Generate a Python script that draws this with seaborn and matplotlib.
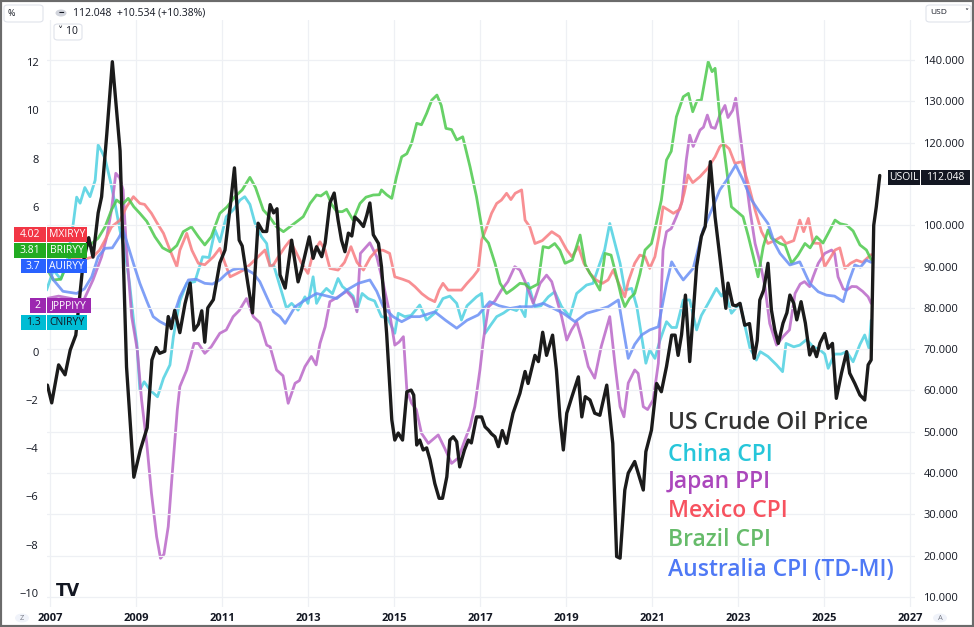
import matplotlib
matplotlib.use("Agg")
import matplotlib.pyplot as plt
from matplotlib.patches import Rectangle, FancyBboxPatch, Circle
import numpy as np
import seaborn as sns

# ---- data (decimal year, value) ----
oil_year = [2006.94, 2007.04, 2007.2, 2007.35, 2007.47, 2007.6, 2007.77, 2007.9, 2008.0, 2008.12,
            2008.2, 2008.32, 2008.45, 2008.63, 2008.78, 2008.95, 2009.1, 2009.26, 2009.37, 2009.47,
            2009.55, 2009.67, 2009.75, 2009.82, 2009.9, 2010.02, 2010.14, 2010.26, 2010.35, 2010.45,
            2010.53, 2010.6, 2010.67, 2010.8, 2010.95, 2011.07, 2011.19, 2011.29, 2011.4, 2011.47,
            2011.6, 2011.71, 2011.84, 2011.95, 2012.04, 2012.12, 2012.2, 2012.28, 2012.35, 2012.47,
            2012.62, 2012.77, 2012.85, 2013.03, 2013.12, 2013.2, 2013.32, 2013.4, 2013.51, 2013.61,
            2013.7, 2013.78, 2013.86, 2013.94, 2014.02, 2014.09, 2014.19, 2014.29, 2014.37, 2014.44,
            2014.52, 2014.64, 2014.71, 2014.83, 2014.95, 2015.02, 2015.1, 2015.2, 2015.3, 2015.4,
            2015.46, 2015.53, 2015.6, 2015.68, 2015.76, 2015.84, 2015.95, 2016.05, 2016.13, 2016.23,
            2016.3, 2016.38, 2016.46, 2016.53, 2016.64, 2016.73, 2016.8, 2016.92, 2017.04, 2017.12,
            2017.2, 2017.27, 2017.35, 2017.43, 2017.52, 2017.62, 2017.7, 2017.77, 2017.93, 2018.05,
            2018.12, 2018.28, 2018.36, 2018.46, 2018.55, 2018.69, 2018.78, 2018.86, 2018.94, 2019.02,
            2019.14, 2019.29, 2019.37, 2019.45, 2019.56, 2019.67, 2019.79, 2019.95, 2020.09, 2020.18,
            2020.26, 2020.37, 2020.45, 2020.6, 2020.8, 2020.86, 2020.99, 2021.11, 2021.22, 2021.34,
            2021.46, 2021.54, 2021.61, 2021.69, 2021.78, 2021.88, 2022.04, 2022.15, 2022.24, 2022.36,
            2022.47, 2022.58, 2022.72, 2022.77, 2022.88, 2022.96, 2023.05, 2023.16, 2023.27, 2023.38,
            2023.45, 2023.51, 2023.6, 2023.7, 2023.78, 2023.86, 2023.94, 2024.05, 2024.14, 2024.21,
            2024.3, 2024.37, 2024.47, 2024.57, 2024.67, 2024.75, 2024.83, 2024.91, 2025.02, 2025.1,
            2025.2, 2025.29, 2025.41, 2025.53, 2025.6, 2025.72, 2025.84, 2025.95, 2026.03, 2026.1,
            2026.16, 2026.22, 2026.3]
oil_price = [61.3, 57.0, 66.2, 63.8, 69.8, 73.4, 90.9, 97.0, 92.3, 103.0,
             106.9, 122.0, 139.6, 118.0, 65.7, 39.0, 45.6, 51.0, 67.4, 70.4,
             69.0, 69.5, 77.9, 75.0, 79.4, 74.0, 81.0, 86.0, 74.6, 76.0,
             79.3, 71.7, 80.0, 82.0, 90.9, 94.0, 104.4, 113.9, 96.4, 95.0,
             86.0, 78.8, 100.5, 98.5, 98.5, 105.0, 103.0, 104.0, 88.0, 84.8,
             96.4, 86.3, 89.2, 97.2, 92.0, 94.8, 92.4, 95.7, 105.4, 107.8,
             101.3, 96.4, 93.6, 98.1, 97.4, 102.0, 101.0, 99.7, 102.5, 105.4,
             97.7, 95.6, 90.0, 73.8, 52.9, 48.0, 49.7, 48.0, 59.7, 60.1,
             58.9, 46.8, 48.0, 45.6, 46.1, 43.2, 37.5, 33.9, 33.9, 39.1,
             48.0, 48.8, 47.6, 41.5, 45.6, 48.0, 47.3, 53.6, 53.6, 51.2,
             50.4, 49.5, 48.8, 46.4, 50.3, 47.2, 51.2, 54.5, 59.3, 64.6,
             61.7, 68.5, 67.0, 74.1, 68.5, 73.4, 64.9, 53.6, 45.6, 54.5,
             58.5, 63.3, 53.6, 58.5, 57.7, 54.5, 54.0, 61.3, 47.2, 19.8,
             19.4, 35.9, 40.0, 42.8, 35.9, 45.2, 50.4, 61.7, 59.7, 65.8,
             73.4, 73.4, 68.5, 73.5, 83.1, 67.0, 90.0, 97.3, 99.7, 115.4,
             102.0, 92.4, 79.9, 86.0, 80.7, 80.5, 81.1, 75.8, 76.2, 67.8,
             72.1, 81.9, 84.3, 90.8, 79.5, 74.6, 71.4, 76.3, 78.8, 83.1,
             81.1, 77.1, 81.5, 76.3, 68.6, 70.6, 68.2, 71.5, 73.8, 70.2,
             71.4, 58.1, 64.2, 69.4, 64.2, 61.7, 58.9, 57.7, 66.2, 67.4,
             100.0, 104.5, 112.048]

china_year = [2006.92, 2007.08, 2007.25, 2007.39, 2007.54, 2007.62, 2007.7, 2007.81, 2007.93, 2008.05,
              2008.12, 2008.2, 2008.28, 2008.4, 2008.51, 2008.63, 2008.74, 2008.85, 2008.95, 2009.02,
              2009.09, 2009.19, 2009.33, 2009.5, 2009.64, 2009.79, 2009.87, 2010.02, 2010.18, 2010.37,
              2010.55, 2010.7, 2010.84, 2010.95, 2011.1, 2011.26, 2011.42, 2011.53, 2011.65, 2011.77,
              2011.92, 2012.04, 2012.12, 2012.2, 2012.35, 2012.5, 2012.62, 2012.77, 2012.93, 2013.0,
              2013.12, 2013.2, 2013.32, 2013.43, 2013.57, 2013.7, 2013.8, 2013.95, 2014.05, 2014.14,
              2014.26, 2014.4, 2014.55, 2014.71, 2014.85, 2015.02, 2015.1, 2015.25, 2015.4, 2015.6,
              2015.76, 2015.95, 2016.14, 2016.3, 2016.46, 2016.57, 2016.7, 2016.92, 2017.04, 2017.12,
              2017.25, 2017.39, 2017.55, 2017.7, 2017.85, 2017.93, 2018.05, 2018.12, 2018.28, 2018.42,
              2018.59, 2018.74, 2018.9, 2019.09, 2019.25, 2019.48, 2019.63, 2019.79, 2019.9, 2020.02,
              2020.14, 2020.26, 2020.37, 2020.53, 2020.65, 2020.76, 2020.86, 2020.95, 2021.07, 2021.19,
              2021.34, 2021.46, 2021.57, 2021.73, 2021.88, 2022.04, 2022.15, 2022.31, 2022.5, 2022.62,
              2022.7, 2022.85, 2022.95, 2023.05, 2023.16, 2023.28, 2023.43, 2023.52, 2023.7, 2023.9,
              2024.04, 2024.12, 2024.3, 2024.44, 2024.6, 2024.75, 2024.91, 2025.02, 2025.1, 2025.25,
              2025.4, 2025.53, 2025.68, 2025.84, 2025.95, 2026.05, 2026.1]
china_cpi = [2.55, 3.38, 3.0, 3.67, 5.3, 6.4, 6.15, 6.8, 6.42, 7.1,
             8.56, 8.3, 8.0, 7.1, 6.15, 5.0, 4.2, 2.83, 1.18, 0.36,
             -1.59, -1.25, -1.6, -1.87, -1.1, -0.55, 0.62, 2.1, 2.83, 2.9,
             3.93, 3.9, 5.04, 4.55, 5.59, 5.87, 6.28, 6.42, 6.1, 5.31,
             4.76, 4.48, 3.52, 3.6, 2.7, 1.8, 2.0, 1.72, 2.27, 2.0,
             3.1, 2.0, 2.4, 2.62, 2.4, 3.03, 2.7, 2.48, 2.3, 1.72,
             2.41, 2.2, 2.1, 1.45, 1.4, 0.76, 1.59, 1.45, 1.5, 1.93,
             1.31, 1.6, 2.2, 2.3, 2.0, 1.31, 1.9, 2.27, 2.41, 0.76,
             1.1, 1.45, 1.6, 1.79, 1.7, 1.86, 1.45, 2.83, 1.86, 1.9,
             2.27, 2.48, 1.86, 1.45, 2.41, 2.76, 2.83, 3.66, 4.21, 5.31,
             4.48, 3.66, 2.55, 2.62, 1.86, 0.62, -0.48, 0.07, -0.28, 0.48,
             1.24, 1.0, 1.0, 2.14, 2.14, 0.9, 1.5, 2.0, 2.62, 2.3,
             2.5, 1.59, 1.8, 2.0, 1.1, 0.15, -0.35, 0.0, -0.2, -0.55,
             -0.83, 0.34, 0.2, 0.27, 0.5, 0.2, 0.07, -0.1, -0.69, -0.1,
             -0.1, 0.0, -0.42, 0.3, 0.69, 0.14, 1.3]

japan_year = [2006.92, 2007.2, 2007.5, 2007.75, 2008.0, 2008.2, 2008.32, 2008.43, 2008.53, 2008.62,
              2008.7, 2008.78, 2008.9, 2009.03, 2009.13, 2009.25, 2009.36, 2009.48, 2009.57, 2009.65,
              2009.75, 2009.85, 2009.96, 2010.02, 2010.18, 2010.35, 2010.45, 2010.6, 2010.75, 2010.95,
              2011.1, 2011.26, 2011.4, 2011.57, 2011.73, 2011.88, 2012.04, 2012.12, 2012.27, 2012.42,
              2012.54, 2012.7, 2012.8, 2012.93, 2013.08, 2013.19, 2013.28, 2013.4, 2013.51, 2013.7,
              2013.9, 2014.05, 2014.14, 2014.22, 2014.44, 2014.6, 2014.75, 2014.9, 2015.02, 2015.12,
              2015.22, 2015.3, 2015.41, 2015.52, 2015.64, 2015.8, 2016.03, 2016.18, 2016.34, 2016.5,
              2016.65, 2016.77, 2016.88, 2017.0, 2017.08, 2017.2, 2017.35, 2017.5, 2017.65, 2017.81,
              2017.93, 2018.05, 2018.24, 2018.4, 2018.55, 2018.67, 2018.78, 2018.9, 2019.02, 2019.13,
              2019.25, 2019.37, 2019.52, 2019.67, 2019.82, 2020.02, 2020.14, 2020.26, 2020.35, 2020.45,
              2020.6, 2020.68, 2020.8, 2020.9, 2021.03, 2021.15, 2021.26, 2021.34, 2021.45, 2021.57,
              2021.7, 2021.8, 2021.88, 2021.96, 2022.12, 2022.2, 2022.29, 2022.38, 2022.47, 2022.58,
              2022.7, 2022.77, 2022.88, 2022.95, 2023.05, 2023.16, 2023.28, 2023.4, 2023.52, 2023.63,
              2023.74, 2023.9, 2024.05, 2024.2, 2024.33, 2024.45, 2024.55, 2024.67, 2024.75, 2024.87,
              2025.02, 2025.18, 2025.25, 2025.33, 2025.45, 2025.53, 2025.65, 2025.76, 2025.9, 2026.03,
              2026.1]
japan_ppi = [2.2, 2.3, 2.2, 2.0, 2.97, 3.93, 4.76, 5.87, 7.39, 7.2,
             6.7, 4.2, 1.45, 0.07, -2.0, -3.8, -5.87, -7.67, -8.56, -8.4,
             -7.25, -4.9, -2.42, -1.45, -0.76, 0.34, 0.34, -0.07, 0.2, 0.76,
             0.9, 1.45, 1.7, 2.2, 1.45, 1.2, 0.27, 0.2, -0.76, -1.0,
             -2.14, -1.31, -1.2, -0.62, -0.2, -0.55, 0.34, 1.03, 2.07, 2.27,
             2.5, 2.2, 1.65, 4.07, 4.51, 3.93, 2.83, 1.59, 0.27, 0.4,
             0.62, -1.59, -2.14, -2.4, -3.38, -3.8, -3.45, -4.0, -4.63, -4.4,
             -3.66, -3.1, -2.28, -0.76, 0.48, 1.86, 2.1, 2.55, 2.9, 3.52,
             3.38, 2.9, 2.0, 2.83, 3.17, 2.9, 2.2, 1.45, 0.48, 0.9,
             1.24, 0.5, -0.62, -1.1, 0.2, 1.45, -0.5, -2.28, -2.7, -1.3,
             -0.76, -0.9, -2.28, -2.4, -2.0, -0.48, 4.21, 4.97, 5.1, 5.59,
             6.2, 7.94, 8.97, 8.5, 9.18, 9.3, 9.8, 9.3, 9.25, 9.8,
             10.2, 9.7, 10.0, 10.5, 9.04, 7.52, 5.87, 4.48, 3.66, 2.69,
             1.17, 0.27, 0.62, 0.9, 2.41, 2.8, 2.9, 2.69, 3.1, 3.66,
             4.07, 4.21, 4.07, 3.1, 2.6, 2.55, 2.7, 2.69, 2.5, 2.27,
             2.0]

mexico_year = [2006.92, 2007.2, 2007.5, 2007.75, 2008.0, 2008.15, 2008.28, 2008.43, 2008.63, 2008.78,
               2008.94, 2009.09, 2009.2, 2009.36, 2009.5, 2009.64, 2009.79, 2009.95, 2010.02, 2010.18,
               2010.3, 2010.45, 2010.6, 2010.8, 2010.95, 2011.07, 2011.19, 2011.35, 2011.5, 2011.65,
               2011.84, 2012.0, 2012.12, 2012.2, 2012.3, 2012.47, 2012.58, 2012.7, 2012.85, 2013.0,
               2013.12, 2013.28, 2013.4, 2013.51, 2013.7, 2013.85, 2014.0, 2014.14, 2014.29, 2014.45,
               2014.6, 2014.75, 2014.9, 2015.02, 2015.2, 2015.35, 2015.49, 2015.65, 2015.8, 2015.95,
               2016.05, 2016.14, 2016.26, 2016.42, 2016.57, 2016.7, 2016.84, 2016.96, 2017.04, 2017.16,
               2017.27, 2017.39, 2017.5, 2017.62, 2017.72, 2017.82, 2017.97, 2018.05, 2018.16, 2018.28,
               2018.45, 2018.67, 2018.85, 2019.02, 2019.14, 2019.29, 2019.42, 2019.56, 2019.7, 2019.85,
               2019.98, 2020.1, 2020.26, 2020.37, 2020.45, 2020.6, 2020.72, 2020.84, 2020.95, 2021.07,
               2021.16, 2021.26, 2021.38, 2021.5, 2021.65, 2021.75, 2021.84, 2021.95, 2022.12, 2022.3,
               2022.47, 2022.58, 2022.66, 2022.8, 2022.93, 2023.09, 2023.24, 2023.4, 2023.55, 2023.7,
               2023.85, 2024.01, 2024.12, 2024.3, 2024.44, 2024.53, 2024.64, 2024.75, 2024.91, 2025.02,
               2025.12, 2025.26, 2025.37, 2025.49, 2025.62, 2025.76, 2025.9, 2026.1]
mexico_cpi = [4.0, 4.1, 3.9, 3.8, 3.93, 4.2, 4.62, 5.17, 5.45, 6.0,
              6.42, 6.14, 6.1, 5.73, 5.3, 4.9, 4.21, 3.52, 4.2, 4.9,
              4.2, 3.66, 3.6, 3.93, 4.28, 3.66, 3.1, 3.24, 3.38, 3.6,
              3.93, 4.21, 3.52, 3.6, 3.9, 4.35, 4.6, 4.2, 3.66, 3.24,
              4.1, 4.55, 4.2, 3.45, 3.38, 3.7, 4.35, 3.7, 3.38, 3.9,
              4.21, 4.2, 4.07, 3.1, 3.0, 2.9, 2.69, 2.4, 2.2, 2.07,
              2.55, 2.83, 2.55, 2.55, 2.55, 2.83, 3.1, 3.38, 4.62, 5.17,
              5.73, 6.14, 6.28, 6.56, 6.3, 6.56, 6.7, 5.45, 5.17, 4.48,
              4.6, 4.97, 4.76, 4.21, 3.93, 4.35, 3.66, 3.24, 2.97, 2.83,
              2.97, 3.38, 2.69, 2.27, 2.9, 3.66, 4.0, 3.93, 3.45, 3.93,
              4.76, 6.0, 5.87, 5.73, 5.9, 6.56, 7.32, 7.0, 7.25, 7.6,
              8.07, 8.49, 8.63, 8.4, 7.8, 7.87, 6.97, 5.87, 4.97, 4.48,
              4.6, 4.76, 4.48, 4.6, 5.45, 4.97, 5.52, 4.5, 4.48, 3.52,
              3.8, 4.21, 4.3, 3.45, 3.66, 3.79, 3.7, 4.02]

brazil_year = [2006.92, 2007.08, 2007.25, 2007.47, 2007.7, 2007.97, 2008.12, 2008.28, 2008.43, 2008.55,
               2008.68, 2008.82, 2008.95, 2009.09, 2009.25, 2009.44, 2009.62, 2009.79, 2009.95, 2010.1,
               2010.29, 2010.45, 2010.6, 2010.75, 2010.95, 2011.12, 2011.3, 2011.47, 2011.65, 2011.78,
               2011.96, 2012.1, 2012.27, 2012.43, 2012.58, 2012.75, 2012.89, 2013.05, 2013.2, 2013.3,
               2013.43, 2013.55, 2013.67, 2013.8, 2013.9, 2014.05, 2014.21, 2014.35, 2014.52, 2014.66,
               2014.71, 2014.83, 2014.95, 2015.06, 2015.18, 2015.3, 2015.41, 2015.53, 2015.64, 2015.76,
               2015.88, 2016.0, 2016.1, 2016.21, 2016.34, 2016.46, 2016.6, 2016.77, 2016.92, 2017.08,
               2017.2, 2017.35, 2017.47, 2017.62, 2017.77, 2017.93, 2018.05, 2018.16, 2018.35, 2018.47,
               2018.6, 2018.74, 2018.86, 2018.98, 2019.15, 2019.33, 2019.45, 2019.56, 2019.68, 2019.79,
               2019.91, 2020.05, 2020.18, 2020.29, 2020.37, 2020.48, 2020.6, 2020.72, 2020.84, 2020.99,
               2021.1, 2021.22, 2021.34, 2021.45, 2021.57, 2021.73, 2021.85, 2021.95, 2022.05, 2022.15,
               2022.24, 2022.31, 2022.4, 2022.47, 2022.58, 2022.7, 2022.85, 2022.98, 2023.12, 2023.24,
               2023.36, 2023.47, 2023.59, 2023.7, 2023.78, 2023.98, 2024.1, 2024.25, 2024.4, 2024.56,
               2024.68, 2024.83, 2024.98, 2025.1, 2025.26, 2025.38, 2025.53, 2025.68, 2025.84, 2025.99,
               2026.1]
brazil_cpi = [3.45, 2.97, 3.0, 3.93, 4.2, 4.48, 4.7, 5.17, 5.87, 6.28,
              6.1, 6.35, 6.0, 5.73, 5.4, 4.76, 4.3, 4.14, 4.4, 4.97,
              5.17, 4.76, 4.42, 4.76, 5.73, 6.0, 6.42, 6.7, 7.22, 6.8,
              5.87, 5.6, 5.17, 4.97, 5.17, 5.4, 5.59, 6.14, 6.49, 6.45,
              6.62, 6.1, 5.8, 5.8, 5.9, 5.45, 6.14, 6.4, 6.49, 6.5,
              6.7, 6.5, 6.35, 7.25, 8.07, 8.2, 8.63, 9.46, 9.4, 9.87,
              10.42, 10.63, 10.2, 9.25, 9.2, 8.77, 8.9, 7.66, 6.42, 4.76,
              4.5, 3.66, 2.83, 2.41, 2.6, 2.83, 2.8, 2.62, 2.8, 4.35,
              4.3, 4.48, 4.2, 3.66, 3.8, 4.83, 3.6, 3.24, 2.9, 2.55,
              4.07, 4.0, 3.1, 2.27, 1.86, 2.2, 2.41, 3.2, 4.21, 4.48,
              5.3, 6.28, 7.94, 8.3, 9.73, 10.56, 10.7, 9.94, 10.4, 10.42,
              11.3, 12.01, 11.6, 11.74, 9.73, 8.07, 6.0, 5.8, 5.59, 4.8,
              3.93, 3.1, 4.35, 5.04, 4.7, 4.48, 4.4, 3.66, 4.0, 4.48,
              4.3, 4.76, 4.5, 4.9, 5.45, 5.3, 5.24, 5.0, 4.42, 4.21,
              3.81]

aus_year = [2006.92, 2007.08, 2007.3, 2007.62, 2007.8, 2007.97, 2008.12, 2008.28, 2008.45, 2008.59,
            2008.7, 2008.82, 2008.95, 2009.09, 2009.25, 2009.4, 2009.55, 2009.71, 2009.87, 2010.02,
            2010.22, 2010.4, 2010.6, 2010.78, 2010.95, 2011.11, 2011.26, 2011.42, 2011.57, 2011.73,
            2011.88, 2012.04, 2012.2, 2012.35, 2012.47, 2012.7, 2012.9, 2013.2, 2013.45, 2013.67,
            2013.9, 2014.17, 2014.44, 2014.6, 2014.75, 2014.98, 2015.18, 2015.4, 2015.6, 2015.95,
            2016.2, 2016.46, 2016.7, 2016.96, 2017.23, 2017.45, 2017.7, 2017.93, 2018.2, 2018.47,
            2018.7, 2018.94, 2019.21, 2019.48, 2019.7, 2019.98, 2020.22, 2020.45, 2020.6, 2020.76,
            2020.95, 2021.15, 2021.34, 2021.46, 2021.6, 2021.73, 2021.96, 2022.19, 2022.39, 2022.58,
            2022.74, 2022.95, 2023.12, 2023.32, 2023.5, 2023.7, 2023.85, 2023.98, 2024.21, 2024.44,
            2024.67, 2024.87, 2025.06, 2025.25, 2025.45, 2025.58, 2025.72, 2025.85, 2025.99, 2026.1]
aus_cpi = [3.66, 2.97, 2.5, 2.41, 2.6, 3.1, 3.93, 4.28, 4.3, 4.69,
           5.04, 4.35, 3.6, 2.83, 2.1, 1.45, 1.25, 1.1, 1.45, 2.27,
           2.97, 3.0, 2.83, 2.8, 2.97, 3.24, 3.4, 3.45, 3.4, 3.24,
           2.9, 2.27, 1.65, 1.45, 1.17, 1.86, 2.1, 2.41, 2.3, 2.2,
           2.55, 2.83, 2.97, 2.5, 1.86, 1.45, 1.24, 1.45, 1.45, 1.65,
           1.3, 0.97, 1.3, 1.52, 2.07, 1.9, 1.79, 1.86, 1.86, 2.0,
           1.8, 1.59, 1.24, 1.59, 1.7, 1.86, 2.14, -0.28, 0.3, 0.69,
           0.9, 1.03, 2.83, 3.72, 3.3, 2.97, 3.45, 5.04, 5.87, 6.7,
           7.11, 7.73, 7.11, 6.28, 5.8, 5.31, 4.5, 4.07, 3.59, 3.72,
           2.83, 2.48, 2.34, 2.3, 2.07, 2.9, 3.59, 3.5, 3.79, 3.7]

series_names = ["China CPI", "Japan PPI", "Mexico CPI", "Brazil CPI", "Australia CPI (TD-MI)"]
x_ticks = [2007, 2009, 2011, 2013, 2015, 2017, 2019, 2021, 2023, 2025, 2027]
left_ticks = [-10, -8, -6, -4, -2, 0, 2, 4, 6, 8, 10, 12]
left_hidden = [2, 4]          # covered by the value tags
right_ticks = [10, 20, 30, 40, 50, 60, 70, 80, 90, 100, 110, 120, 130, 140]
right_hidden = [110]          # covered by the USOIL tag

W, H = 974, 627
TXT = "#131722"

sns.set_style("white")
plt.rcParams["font.family"] = ["Open Sans", "DejaVu Sans"]

fig = plt.figure(figsize=(W / 100, H / 100), dpi=100)
fig.patch.set_facecolor("white")
ax = fig.add_axes([47 / W, 20 / H, 868 / W, 587 / H])
ax2 = ax.twinx()


def fx(x):
    return x / W


def fy(y):
    return 1 - y / H


# CPI lines (left scale)
cpi_style = [
    (china_year, china_cpi, "#4dd0e1"),
    (japan_year, japan_ppi, "#ba68c8"),
    (mexico_year, mexico_cpi, "#f77c80"),
    (brazil_year, brazil_cpi, "#4cc94c"),
    (aus_year, aus_cpi, "#6a8ff5"),
]
for (xs, ys, col), name in zip(cpi_style, series_names):
    sns.lineplot(x=xs, y=ys, ax=ax, color=col, linewidth=2.0, alpha=0.85,
                 estimator=None, label=name, legend=False)

# oil (right scale)
sns.lineplot(x=oil_year, y=oil_price, ax=ax2, color="#1b1b1b", linewidth=2.4,
             estimator=None, legend=False)

ax.set_xlim(2006.93, 2027.12)
ax.set_ylim(-10.58, 13.74)
ax2.set_ylim(7.58, 149.7)

ax.set_xticks(x_ticks)
ax.set_xticklabels([str(t) for t in x_ticks], fontsize=8, fontweight="bold", color=TXT)
ax.set_yticks(left_ticks)
ax.set_yticklabels(["" if t in left_hidden else str(t).replace("-", "\u2212") for t in left_ticks],
                   fontsize=8, color=TXT)
ax2.set_yticks(right_ticks)
ax2.set_yticklabels(["" if t in right_hidden else "%.3f" % t for t in right_ticks],
                    fontsize=8, color=TXT)
ax.tick_params(axis="both", length=0, pad=6)
ax.tick_params(axis="x", pad=4)
ax2.tick_params(axis="y", length=0, pad=6)

ax.grid(False)
ax.xaxis.grid(True, color="#eef0f4", linewidth=0.9)
ax2.grid(False)
ax2.yaxis.grid(True, color="#eef0f4", linewidth=0.9)
for a in (ax, ax2):
    for s in a.spines.values():
        s.set_visible(False)
    a.set_xlabel("")
    a.set_ylabel("")

# text legend
legend_items = [("US Crude Oil Price", "#333333", 423),
                ("China CPI", "#26c6da", 455),
                ("Japan PPI", "#ab47bc", 482),
                ("Mexico CPI", "#f7525f", 511),
                ("Brazil CPI", "#66bb6a", 540),
                ("Australia CPI (TD-MI)", "#4f79f5", 570)]
for txt, col, yy in legend_items:
    fig.text(fx(668), fy(yy), txt, color=col, fontsize=16.5, fontweight="semibold",
             va="center", ha="left")


def tag(x0, x1, y0, y1, color, text, tcol="white", size=7.5):
    fig.patches.append(Rectangle((fx(x0), fy(y1)), fx(x1 - x0), (y1 - y0) / H,
                                 transform=fig.transFigure, facecolor=color,
                                 edgecolor="none", zorder=5))
    fig.text(fx((x0 + x1) / 2), fy((y0 + y1) / 2), text, color=tcol, fontsize=size,
             ha="center", va="center", zorder=6)


# last-value tags on the left scale
left_tags = [("4.02", "MXIRYY", "#f23645", 14, 87, 227, 242, "white"),
             ("3.81", "BRIRYY", "#22ab22", 14, 87, 243, 258, "white"),
             ("3.7", "AUIRYY", "#2962ff", 21, 87, 259, 273, "white"),
             ("2", "JPPPIYY", "#9c27b0", 30, 91, 298, 313, "white"),
             ("1.3", "CNIRYY", "#00bcd4", 21, 87, 315, 330, TXT)]
for val, nm, col, x0, x1, y0, y1, tc in left_tags:
    tag(x0, 45.5, y0, y1, col, val, tc)
    tag(46.5, x1, y0, y1, col, nm, tc)

# price tag on the right scale
tag(888, 920, 170, 185, "#131722", "USOIL")
tag(921, 970, 170, 185, "#131722", "112.048")

# toolbar bits
fig.patches.append(FancyBboxPatch((fx(4), fy(22)), fx(39), 17 / H, boxstyle="round,pad=0,rounding_size=0.004",
                                  transform=fig.transFigure, facecolor="white", edgecolor="#e0e3eb", lw=0.8))
fig.text(fx(8), fy(13), "%", fontsize=6.5, color=TXT, va="center")
fig.patches.append(Circle((fx(61), fy(13)), 5.5 / W, transform=fig.transFigure,
                          facecolor="#d1d4dc", edgecolor="none"))
fig.text(fx(61), fy(13), "\u2212", fontsize=7, color=TXT, ha="center", va="center", fontweight="bold")
fig.text(fx(73), fy(13), "112.048  +10.534 (+10.38%)", fontsize=7.5, color=TXT, va="center")
fig.patches.append(FancyBboxPatch((fx(54), fy(40)), fx(28), 16 / H, boxstyle="round,pad=0,rounding_size=0.004",
                                  transform=fig.transFigure, facecolor="white", edgecolor="#e0e3eb", lw=0.8))
fig.text(fx(58), fy(32), "\u02c5 10", fontsize=7.5, color=TXT, va="center")
fig.patches.append(FancyBboxPatch((fx(926), fy(22)), fx(45), 17 / H, boxstyle="round,pad=0,rounding_size=0.004",
                                  transform=fig.transFigure, facecolor="white", edgecolor="#e0e3eb", lw=0.8))
fig.text(fx(930), fy(13), "USD", fontsize=6, color=TXT, va="center")
fig.text(fx(964), fy(13), "\u02c5", fontsize=6, color=TXT, va="center")
fig.text(fx(56), fy(591), "TV", fontsize=12, fontweight="heavy", color="#131722", va="center",
         family="DejaVu Sans")
for cx, letter in ((22, "Z"), (940, "A")):
    fig.patches.append(Circle((fx(cx), fy(618)), 7 / W, transform=fig.transFigure,
                              facecolor="#f0f3fa", edgecolor="none", zorder=7))
    fig.text(fx(cx), fy(618), letter, fontsize=5.5, color="#787b86", ha="center", va="center", zorder=8)

# outer frame
fig.patches.append(Rectangle((0, 0), 1, 1, transform=fig.transFigure, facecolor="none",
                             edgecolor="#6b6b6b", linewidth=3, zorder=10))

fig.savefig("out.png", dpi=100)
